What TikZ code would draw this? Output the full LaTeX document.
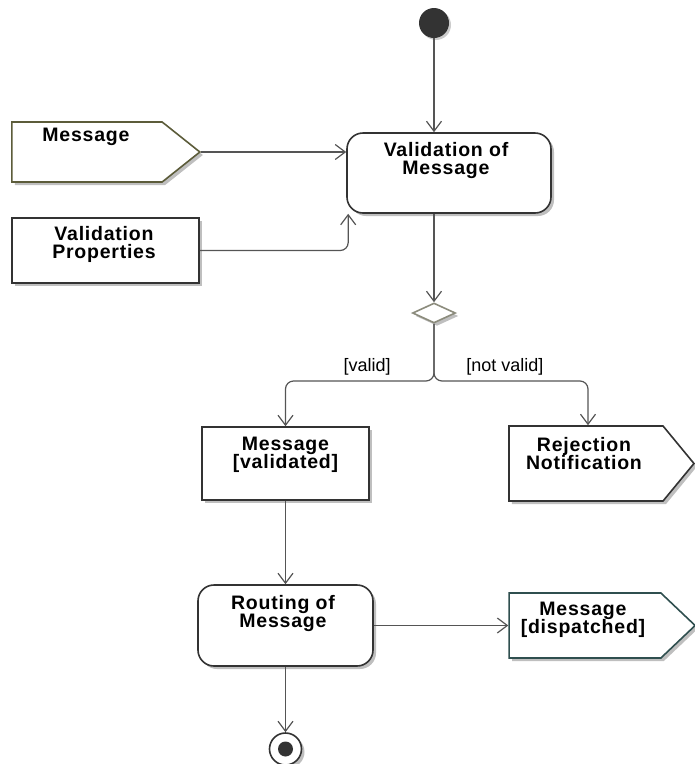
\documentclass[tikz,border=0pt]{standalone}
\usepackage{fontspec}
\setmainfont{Liberation Sans}
\newfontfamily\titlefamily[LetterSpace=4]{Liberation Sans}
\usetikzlibrary{arrows.meta,shapes.geometric,shapes.symbols,shadows}

\definecolor{trait}{HTML}{333333}
\definecolor{fleche}{HTML}{555555}
\definecolor{pinolive}{HTML}{5C5C3A}
\definecolor{pinteal}{HTML}{2F4F4F}
\definecolor{losange}{HTML}{8C8C7D}

\newcommand{\titlefont}{\titlefamily\fontsize{19.5}{18}\selectfont\bfseries\lineskiplimit=-20pt\relax}

\begin{document}
\begin{tikzpicture}[x=1pt, y=-1pt,
    base/.style={draw=trait, line width=1.6pt, fill=white, inner sep=0pt,
      drop shadow={shadow xshift=3pt, shadow yshift=-3pt, fill=black, opacity=0.25}},
    action/.style={base, rectangle, rounded corners=16pt},
    object/.style={base, rectangle},
    pin/.style={base, signal, signal to=east},
    decision/.style={base, diamond, draw=losange, aspect=2.15, minimum width=43pt, minimum height=20pt},
    title/.style={font=\titlefont, align=center, inner sep=0pt, anchor=north},
    guard/.style={font=\fontsize{18}{20}\selectfont, inner sep=2pt},
    line/.style={-{Straight Barb[length=10pt,width=15pt]}, draw=fleche, line width=1.2pt}
]
\useasboundingbox (0,0) rectangle (695,764);

% Noeuds initial / final
\node[circle, fill=trait, minimum size=30pt, inner sep=0pt,
  drop shadow={shadow xshift=2pt, shadow yshift=-2pt, fill=black, opacity=0.2}] (start) at (434,23) {};
\node[base, circle, minimum size=32pt,
  path picture={\fill[trait] (path picture bounding box.center) circle (7.5pt);}] (final) at (285.5,749) {};

% Actions
\node[action, minimum width=204pt, minimum height=80pt] (validate) at (449,173) {};
\node[action, minimum width=175pt, minimum height=81pt] (routing) at (285.5,625.5) {};
\node[decision] (decision) at (434,313) {};

% Objets et pins (le centre est celui du corps rectangulaire)
\node[pin, draw=pinolive, minimum width=188pt, minimum height=60pt, signal pointer angle=77] (msgIn) at (87,152) {};
\node[object, minimum width=187pt, minimum height=65pt] (props) at (105.5,250.5) {};
\node[object, minimum width=167pt, minimum height=73pt] (validated) at (285.5,463.5) {};
\node[pin, minimum width=185pt, minimum height=75pt, signal pointer angle=101] (reject) at (586,463.5) {};
\node[pin, draw=pinteal, minimum width=186pt, minimum height=65pt, signal pointer angle=87] (dispatch) at (585,625.5) {};

% Textes
\node[title] (msgInText) at (86,128) {Message};
\node[title] (propsText) at (104,226) {Validation\\Properties};
\node[title] (validateText) at (446,142) {Validation of\\Message};
\node[title] (validatedText) at (285.5,437) {Message\\{[validated]}};
\node[title] (rejectText) at (584,437) {Rejection\\Notification};
\node[title] (routingText) at (283,595) {Routing of\\Message};
\node[title] (dispatchText) at (583,602) {Message\\{[dispatched]}};

% Flux
\coordinate (fork) at (434,381);
\draw[line] (start) -- (start |- validate.north);
\draw[line] (msgIn.east) -- (msgIn.east -| validate.west);
\draw[line, rounded corners=8pt] (props.east) -| ([xshift=2pt]validate.south west);
\draw[line] (decision |- validate.south) -- (decision.north);
\draw[line, rounded corners=8pt] (decision.south) -- (fork)
  -| node[guard, pos=0.225, above=3pt] {[valid]} (validated.north);
\draw[line, rounded corners=8pt] (decision.south) -- (fork)
  -| node[guard, pos=0.23, above=3pt] {[not valid]} ([xshift=2pt]reject.north);
\draw[line] (validated) -- (routing);
\draw[line] (routing) -- (dispatch);
\draw[line] (routing) -- (final);

\end{tikzpicture}
\end{document}
